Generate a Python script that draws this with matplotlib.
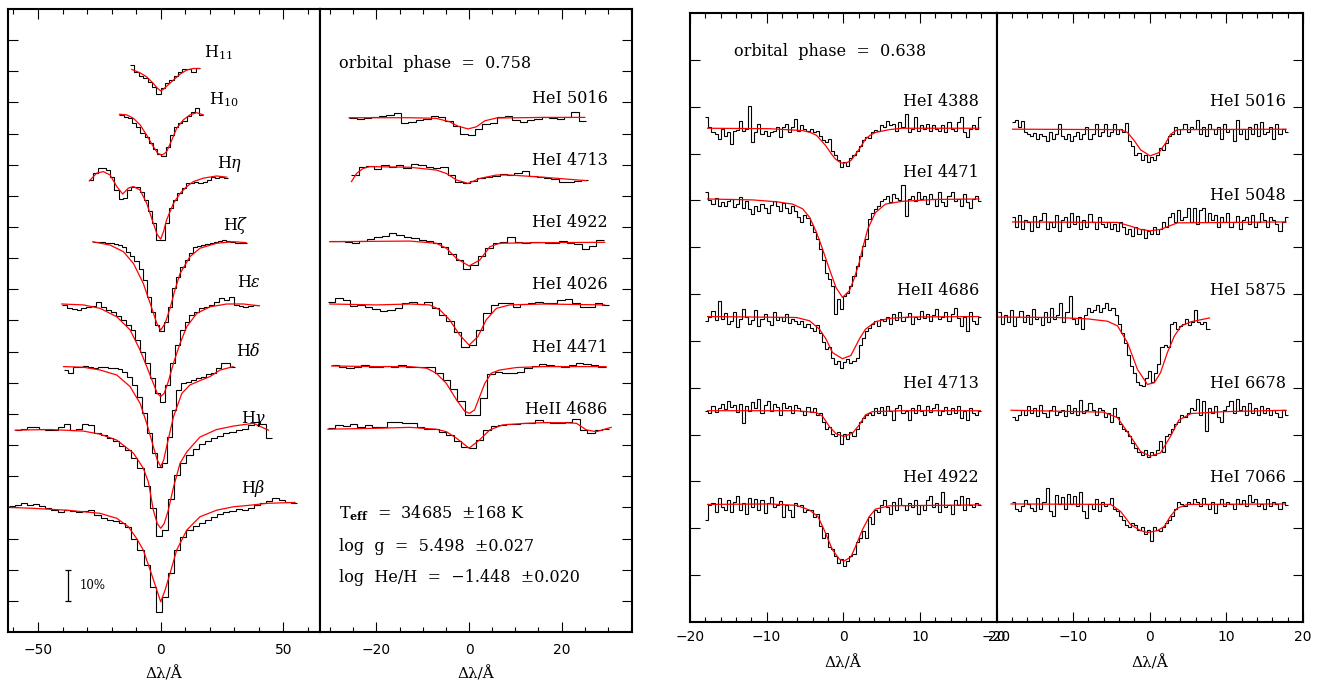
import numpy as np
import matplotlib
matplotlib.use('Agg')
import matplotlib.pyplot as plt
from matplotlib.ticker import MultipleLocator

plt.rcParams['mathtext.fontset'] = 'dejavuserif'
plt.rcParams['font.family'] = 'DejaVu Sans'
SERIF = 'DejaVu Serif'

# ---------------- left figure, Balmer lines (continuum = 1) ----------------
balmer_labels = [r'H$_{\rm 11}$', r'H$_{\rm 10}$', r'H$\eta$', r'H$\zeta$',
                 r'H$\epsilon$', r'H$\delta$', r'H$\gamma$', r'H$\beta$']
balmer_cont = [1.807, 1.665, 1.462, 1.253, 1.053, 0.852, 0.648, 0.400]
balmer_start = [-12.5, -16.8, -29.1, -27.7, -40.3, -39.6, -59.5, -62.0]
balmer_step = [1.78, 1.71, 1.71, 1.70, 2.0, 2.0, 2.5, 2.5]
balmer_lab_x = [17.6, 19.7, 22.8, 25.3, 31.2, 30.7, 32.6, 32.6]
balmer_lab_y = [1.845, 1.694, 1.491, 1.291, 1.107, 0.886, 0.672, 0.447]

h11_obs = [1.013, 0.991, 0.978, 0.973, 0.959, 0.943, 0.919, 0.938, 0.954, 0.965,
           0.978, 0.991, 1.0, 0.999, 0.991, 1.004]
h11_fit_x = [-11.8, -8.4, -5.7, -3.0, -1.5, 0, 1.2, 2.4, 5.2, 7.9, 10.6, 13.3, 15.8]
h11_fit_y = [0.999, 0.988, 0.975, 0.954, 0.94, 0.930, 0.936, 0.945, 0.965, 0.984,
             0.997, 1.002, 1.002]

h10_obs = [0.995, 0.987, 0.984, 0.970, 0.955, 0.936, 0.923, 0.904, 0.884, 0.869,
           0.863, 0.893, 0.930, 0.957, 0.970, 0.976, 0.991, 1.005, 1.016, 0.995]
h10_fit_x = [-16.8, -13.8, -11.1, -8.4, -5.7, -3.0, -1.2, 0.3, 1.4, 2.4, 4.5, 6.5,
             9.2, 11.9, 14.7, 17.4]
h10_fit_y = [0.997, 0.995, 0.984, 0.963, 0.930, 0.893, 0.872, 0.866, 0.870, 0.877,
             0.914, 0.952, 0.979, 0.995, 1.002, 0.995]

heta_obs = [0.989, 1.011, 1.027, 1.027, 1.021, 1.0, 0.957, 0.927, 0.930, 0.957,
            0.968, 0.968, 0.952, 0.925, 0.888, 0.850, 0.797, 0.795, 0.850, 0.898,
            0.925, 0.946, 0.963, 0.979, 0.981, 0.984, 0.981, 0.984, 0.989, 1.0,
            0.995, 1.0, 0.995]
heta_fit_x = [-29.1, -26.1, -23.4, -20.6, -17.9, -15.5, -13.2, -11.1, -8.4, -5.7,
              -3.0, -1.5, 0, 1.2, 2.4, 5.2, 7.9, 10.6, 13.3, 17.4, 22.8, 26.9]
heta_fit_y = [0.986, 1.011, 1.016, 1.005, 0.968, 0.944, 0.963, 0.968, 0.957, 0.914,
              0.850, 0.815, 0.799, 0.825, 0.861, 0.914, 0.946, 0.968, 0.984, 0.995,
              1.002, 0.998]

hzeta_obs = [1.0, 1.0, 0.998, 0.997, 0.995, 0.993, 0.989, 0.982, 0.968, 0.954,
             0.939, 0.911, 0.877, 0.823, 0.775, 0.732, 0.714, 0.743, 0.791, 0.850,
             0.888, 0.918, 0.941, 0.965, 0.982, 0.986, 0.989, 0.993, 0.995, 1.0,
             1.003, 1.005, 1.002, 1.0, 0.997, 0.997, 0.995]
hzeta_fit_x = [-27.7, -20.6, -15.2, -11.1, -7.1, -4.3, -1.6, 0, 1.8, 3.8, 5.8, 7.9,
               11.9, 16.0, 22.8, 29.6, 34.8]
hzeta_fit_y = [1.0, 0.989, 0.968, 0.930, 0.866, 0.802, 0.738, 0.716, 0.738, 0.786,
               0.845, 0.898, 0.952, 0.979, 0.995, 1.0, 0.997]

heps_obs = [0.997, 0.986, 0.983, 0.981, 0.986, 0.989, 0.994, 1.007, 0.991, 0.981,
            0.975, 0.961, 0.949, 0.933, 0.917, 0.884, 0.847, 0.810, 0.761, 0.713,
            0.686, 0.740, 0.810, 0.868, 0.917, 0.943, 0.965, 0.975, 0.986, 0.991,
            0.997, 1.007, 1.018, 1.013, 1.024, 0.997, 0.994, 0.991, 0.994, 0.997]
heps_fit_x = [-40.3, -31.5, -24.7, -17.9, -12.5, -8.4, -5.7, -3.0, -1.4, 0, 1.4,
              3.1, 5.2, 7.9, 10.6, 14.7, 20.1, 26.9, 33.7, 40.2]
heps_fit_y = [1.0, 0.997, 0.986, 0.959, 0.917, 0.852, 0.799, 0.745, 0.713, 0.703,
              0.713, 0.751, 0.810, 0.874, 0.927, 0.970, 0.991, 1.0, 1.0, 0.994]

hdelta_obs = [0.989, 0.981, 0.998, 1.0, 1.002, 0.998, 0.995, 1.0, 0.998, 0.995,
              0.995, 0.991, 0.984, 0.968, 0.941, 0.904, 0.850, 0.786, 0.722, 0.677,
              0.690, 0.775, 0.861, 0.925, 0.946, 0.952, 0.957, 0.963, 0.968, 0.976,
              0.981, 0.995, 1.011, 1.013, 1.0]
hdelta_fit_x = [-39.6, -31.5, -24.7, -17.9, -12.5, -8.4, -5.7, -3.0, -1.4, 0, 1.2,
                2.4, 5.2, 8.6, 11.9, 16.0, 20.1, 24.2, 29.6]
hdelta_fit_y = [1.0, 0.998, 0.989, 0.973, 0.936, 0.882, 0.818, 0.743, 0.70, 0.679,
                0.70, 0.743, 0.839, 0.914, 0.941, 0.955, 0.968, 0.989, 1.0]

hgamma_obs = [1.0, 1.005, 1.01, 1.01, 1.005, 1.0, 1.0, 1.01, 1.02, 1.0,
              1.005, 1.02, 1.015, 0.99, 0.985, 0.975, 0.965, 0.95, 0.935, 0.91,
              0.88, 0.82, 0.75, 0.66, 0.68, 0.78, 0.855, 0.895, 0.92, 0.94,
              0.955, 0.965, 0.975, 0.982, 0.99, 0.995, 1.0, 1.005, 1.015, 1.025,
              1.02, 0.975]
hgamma_fit_x = [-59.3, -45.1, -31.5, -24.7, -17.9, -11.1, -7.1, -5.0, -3.0, -1.4, 0,
                1.4, 3.1, 5.2, 7.9, 10.6, 16.0, 22.8, 29.6, 37.7, 43.9]
hgamma_fit_y = [1.0, 1.002, 0.997, 0.987, 0.968, 0.926, 0.878, 0.833, 0.743, 0.70,
                0.685, 0.70, 0.743, 0.817, 0.894, 0.930, 0.978, 1.002, 1.013, 1.022,
                1.0]

hbeta_obs = [1.004, 1.007, 1.013, 1.007, 1.011, 1.004, 0.997, 0.991, 0.986, 0.991,
             0.988, 0.986, 0.989, 0.991, 0.975, 0.965, 0.959, 0.956, 0.949, 0.938,
             0.900, 0.863, 0.815, 0.745, 0.665, 0.713, 0.788, 0.863, 0.906, 0.927,
             0.940, 0.951, 0.959, 0.970, 0.979, 0.984, 0.989, 0.995, 0.991, 0.997,
             1.007, 1.013, 1.021, 1.029, 1.024, 1.018, 1.015]
hbeta_fit_x = [-61.4, -51.9, -38.3, -24.7, -17.9, -13.2, -9.8, -7.1, -4.3, -1.6, 0,
               1.8, 3.8, 6.5, 10.6, 16.0, 22.8, 29.6, 36.4, 43.2, 54.7]
hbeta_fit_y = [1.0, 0.997, 0.991, 0.981, 0.965, 0.938, 0.900, 0.863, 0.799, 0.735,
               0.697, 0.735, 0.788, 0.863, 0.927, 0.970, 0.991, 1.002, 1.007, 1.013,
               1.016]

# ---------------- left figure, helium lines ----------------
heL_labels = ['HeI 5016', 'HeI 4713', 'HeI 4922', 'HeI 4026', 'HeI 4471', 'HeII 4686']
heL_cont = [1.651, 1.451, 1.253, 1.053, 0.852, 0.654]
heL_start = [-25.9, -25.4, -30.1, -30.5, -29.7, -30.5]
heL_step = 1.6
heL_lab_y = [1.697, 1.499, 1.301, 1.100, 0.900, 0.699]

l5016_obs = [0.998, 0.995, 1.0, 1.001, 1.007, 1.01, 1.016, 0.984, 0.987, 0.993,
             0.997, 1.006, 1.003, 0.99, 0.973, 0.948, 0.944, 0.963, 0.98, 0.982,
             1.001, 1.005, 0.993, 0.986, 0.993, 0.995, 1.001, 0.999, 0.995, 1.001,
             1.018, 0.99]
l5016_fit_x = [-25.9, -12.8, -7.1, -4.2, -2.4, -0.2, 1.6, 3.4, 5.9, 16.0, 25.0]
l5016_fit_y = [1.0, 1.0, 0.998, 0.987, 0.973, 0.964, 0.971, 0.990, 0.999, 1.001, 1.001]

l4713_obs = [1.016, 1.043, 1.046, 1.034, 1.047, 1.041, 1.049, 1.037, 1.051, 1.047,
             1.041, 1.037, 1.043, 1.016, 0.995, 0.991, 0.998, 1.005, 1.011, 1.013,
             1.019, 1.016, 1.021, 1.028, 1.014, 1.009, 1.006, 1.002, 0.993, 0.995,
             0.998, 1.0]
l4713_fit_x = [-25.4, -24.3, -22.9, -21.4, -12.8, -7.1, -4.9, -2.7, -0.2, 2.3, 5.9,
               8.8, 16.0, 25.3]
l4713_fit_y = [0.995, 1.021, 1.037, 1.043, 1.041, 1.032, 1.021, 1.0, 0.989, 1.005,
               1.016, 1.016, 1.009, 0.998]

l4922_obs = [1.001, 1.003, 1.0, 0.995, 1.003, 1.01, 1.014, 1.018, 1.027, 1.022,
             1.016, 1.011, 1.005, 1.002, 0.997, 0.984, 0.960, 0.941, 0.911, 0.925,
             0.954, 0.979, 0.995, 0.999, 1.014, 1.0, 0.997, 0.999, 0.998, 0.995,
             0.997, 1.001, 0.997, 0.993, 0.975, 0.986, 1.007]
l4922_fit_x = [-30.1, -12.8, -7.1, -4.9, -2.7, 0, 2.3, 4.5, 6.6, 16.0, 29.3]
l4922_fit_y = [1.0, 1.002, 0.995, 0.979, 0.946, 0.922, 0.941, 0.984, 0.995, 0.997, 0.998]

l4026_obs = [1.007, 1.018, 1.013, 0.994, 0.996, 0.991, 0.985, 0.979, 0.981, 0.988,
             1.002, 1.006, 1.0, 1.005, 0.986, 0.965, 0.946, 0.911, 0.863, 0.868,
             0.917, 0.970, 0.997, 1.002, 1.004, 0.989, 1.0, 1.002, 1.006, 1.002,
             1.004, 1.013, 1.017, 1.004, 0.991, 0.989, 1.004, 0.997]
l4026_fit_x = [-30.1, -20.0, -12.8, -8.5, -6.3, -4.2, -2.0, 0, 1.9, 3.7, 5.9, 8.8,
               16.0, 29.3]
l4026_fit_y = [1.0, 0.997, 1.0, 0.997, 0.981, 0.949, 0.900, 0.868, 0.895, 0.949,
               0.986, 0.997, 1.0, 0.997]

l4471_obs = [1.004, 0.998, 0.994, 1.0, 1.005, 1.0, 0.999, 1.002, 1.0, 1.004,
             1.0, 1.0, 0.998, 0.998, 0.981, 0.957, 0.927, 0.888, 0.845, 0.845,
             0.899, 0.976, 0.983, 0.980, 0.978, 0.984, 0.995, 1.002, 1.007, 1.005,
             1.002, 0.999, 1.005, 1.011, 1.007, 1.004, 0.998]
l4471_fit_x = [-29.7, -20.0, -12.8, -9.2, -7.1, -4.9, -2.7, -0.9, 0.1, 1.2, 2.3, 3.4,
               4.8, 6.6, 10.2, 16.0, 29.6]
l4471_fit_y = [1.002, 1.0, 1.0, 0.995, 0.979, 0.946, 0.893, 0.856, 0.850, 0.861,
               0.904, 0.946, 0.979, 0.989, 0.997, 1.0, 1.0]

l4686_obs = [1.0, 1.011, 1.007, 1.014, 1.003, 1.009, 1.003, 1.005, 1.021, 1.021,
             1.018, 1.018, 1.003, 0.997, 0.997, 0.989, 0.979, 0.960, 0.941, 0.936,
             0.963, 0.995, 1.007, 1.010, 1.015, 1.014, 1.018, 1.016, 1.027, 1.021,
             1.018, 1.016, 1.021, 1.029, 0.995, 0.984, 0.993, 0.999]
l4686_fit_x = [-30.5, -20.0, -12.8, -7.1, -4.9, -2.7, 0, 2.3, 4.5, 7.3, 12.4, 16.0,
               20.3, 23.2, 25.3, 27.5, 30.7]
l4686_fit_y = [0.997, 1.0, 1.003, 0.997, 0.989, 0.968, 0.936, 0.963, 0.995, 1.011,
               1.016, 1.018, 1.018, 1.016, 0.995, 0.989, 1.003]

# ---------------- right figure (orbital phase 0.638) ----------------
rA_labels = ['HeI 4388', 'HeI 4471', 'HeII 4686', 'HeI 4713', 'HeI 4922']
rA_cont = [1.054, 0.903, 0.652, 0.451, 0.250]
rB_labels = ['HeI 5016', 'HeI 5048', 'HeI 5875', 'HeI 6678', 'HeI 7066']
rB_cont = [1.052, 0.854, 0.651, 0.452, 0.252]
rB_start = [-18.0, -18.0, -19.8, -18.0, -18.0]
r_lab_y = [1.101, 0.949, 0.699, 0.500, 0.299]
rB_lab_y = [1.102, 0.901, 0.699, 0.500, 0.299]
r_step = 0.4

r4388_obs = [1.024, 1.002, 0.993, 0.988, 0.977, 0.999, 0.984, 0.991, 0.966, 0.995,
             0.997, 1.016, 0.995, 0.999, 1.048, 0.970, 0.991, 1.009, 0.988, 0.995,
             0.984, 0.991, 0.995, 1.002, 0.981, 1.002, 1.009, 0.991, 1.002, 1.020,
             0.995, 1.006, 0.999, 0.995, 0.999, 0.991, 0.995, 0.984, 0.974, 0.970,
             0.977, 0.952, 0.942, 0.933, 0.917, 0.927, 0.920, 0.936, 0.942, 0.952,
             0.963, 0.974, 0.981, 0.979, 0.991, 0.997, 0.995, 1.006, 1.002, 1.016,
             1.006, 1.009, 0.995, 1.013, 1.002, 1.031, 0.991, 0.999, 1.024, 0.995,
             1.006, 0.999, 1.009, 0.995, 1.006, 0.999, 0.995, 1.006, 0.991, 1.013,
             0.999, 0.995, 1.013, 1.024, 0.991, 0.981, 0.999, 1.006, 0.999, 1.024]
r4388_fit_x = [-17.7, -9.6, -5.3, -4.3, -3.5, -3.0, -2.3, -1.5, -1.0, -0.5, 0, 0.5,
               1.0, 1.5, 2.1, 2.5, 2.9, 3.5, 4.2, 6.0, 7.7, 17.7]
r4388_fit_y = [1.0, 0.999, 0.995, 0.991, 0.985, 0.976, 0.963, 0.944, 0.934, 0.928,
               0.925, 0.927, 0.931, 0.942, 0.956, 0.966, 0.977, 0.985, 0.991, 0.997,
               1.0, 1.0]

r4471_obs = [1.014, 0.998, 0.99, 1.003, 0.985, 0.993, 0.986, 0.996, 1.0, 0.982,
             0.99, 1.004, 0.981, 0.995, 0.978, 0.968, 0.985, 0.975, 0.99, 0.98,
             0.97, 0.988, 0.996, 0.985, 0.975, 0.992, 0.98, 0.97, 0.986, 0.975,
             0.962, 0.95, 0.965, 0.96, 0.945, 0.93, 0.915, 0.893, 0.87, 0.843,
             0.83, 0.815, 0.754, 0.786, 0.765, 0.793, 0.80, 0.815, 0.835, 0.857,
             0.879, 0.9, 0.914, 0.957, 0.971, 0.979, 0.986, 0.996, 1.0, 1.007,
             0.993, 1.01, 1.003, 0.998, 1.029, 0.964, 1.0, 1.007, 0.995, 1.014,
             1.0, 1.007, 0.99, 1.01, 1.0, 0.985, 1.014, 0.993, 0.986, 1.007,
             1.014, 0.995, 1.0, 0.986, 1.01, 0.993, 0.98, 1.0, 1.007, 0.996]
r4471_fit_x = [-17.7, -11.8, -8.7, -6.6, -5.3, -4.4, -3.5, -2.7, -1.8, -0.95, -0.1,
               0.8, 1.4, 2.1, 2.5, 3.2, 4.2, 5.5, 7.7, 12.0, 17.7]
r4471_fit_y = [1.0, 0.998, 0.994, 0.989, 0.979, 0.961, 0.929, 0.893, 0.850, 0.811,
               0.790, 0.804, 0.829, 0.865, 0.893, 0.936, 0.971, 0.989, 0.995, 0.999,
               1.0]

r4686_obs = [0.99, 1.0, 1.012, 0.993, 1.034, 0.995, 1.007, 0.985, 0.99, 1.01,
             0.977, 0.995, 1.016, 1.0, 0.985, 0.993, 1.014, 0.98, 0.995, 1.005,
             0.99, 0.982, 1.01, 0.993, 1.0, 0.99, 1.005, 0.986, 0.995, 0.99,
             0.985, 0.99, 0.978, 0.985, 0.975, 0.97, 0.982, 0.965, 0.945, 0.93,
             0.935, 0.912, 0.898, 0.905, 0.89, 0.902, 0.91, 0.9, 0.905, 0.912,
             0.94, 0.955, 0.97, 0.975, 0.985, 0.99, 0.98, 0.995, 0.99, 1.0,
             0.985, 1.005, 0.993, 1.01, 0.99, 1.0, 1.007, 0.985, 1.0, 0.995,
             1.012, 0.998, 1.006, 0.99, 1.004, 1.016, 0.995, 1.0, 1.01, 0.99,
             1.005, 1.018, 0.996, 0.98, 1.0, 0.97, 1.01, 0.99, 0.985, 1.0]
r4686_fit_x = [-17.7, -6.1, -4.4, -3.1, -2.25, -1.4, -0.1, 1.0, 2.1, 2.9, 4.2, 6.0,
               8.6, 17.7]
r4686_fit_y = [1.0, 0.998, 0.991, 0.973, 0.952, 0.923, 0.910, 0.917, 0.952, 0.973,
               0.989, 0.996, 0.999, 1.0]

r4713_obs = [1.0, 0.995, 1.01, 0.998, 1.005, 1.014, 1.003, 1.02, 1.008, 1.012,
             0.998, 1.015, 0.974, 1.01, 1.0, 1.018, 1.005, 1.025, 0.995, 1.012,
             1.02, 1.0, 1.015, 1.008, 0.99, 1.017, 1.005, 1.01, 0.995, 1.012,
             1.005, 1.0, 0.99, 1.008, 0.998, 1.005, 0.99, 0.995, 0.975, 0.96,
             0.965, 0.95, 0.945, 0.955, 0.93, 0.95, 0.94, 0.955, 0.945, 0.96,
             0.975, 0.985, 0.99, 0.995, 0.99, 1.005, 0.995, 1.007, 0.99, 1.01,
             1.0, 0.98, 1.005, 1.013, 0.995, 1.0, 0.98, 1.006, 0.995, 1.012,
             1.0, 0.99, 1.01, 0.997, 1.005, 1.015, 0.99, 1.0, 1.008, 0.993,
             1.005, 0.995, 1.01, 0.985, 1.0, 0.98, 1.006, 0.995, 0.99, 1.0]
r4713_fit_x = [-17.7, -6.1, -3.5, -2.7, -1.8, -0.95, 0.1, 1.2, 2.1, 2.9, 3.8, 7.7, 17.9]
r4713_fit_y = [1.0, 1.0, 0.996, 0.988, 0.966, 0.951, 0.945, 0.952, 0.970, 0.991,
               0.998, 1.0, 1.0]

r4922_obs = [0.968, 1.0, 1.005, 0.985, 1.014, 0.995, 0.99, 1.01, 0.985, 1.007,
             1.02, 0.99, 1.005, 0.98, 1.015, 0.995, 1.012, 0.99, 1.01, 0.982,
             1.005, 1.016, 0.995, 1.0, 1.008, 0.975, 1.0, 0.99, 0.975, 1.003,
             0.998, 1.0, 0.985, 0.99, 0.99, 0.975, 0.98, 0.955, 0.93, 0.94,
             0.91, 0.905, 0.89, 0.875, 0.885, 0.87, 0.88, 0.89, 0.895, 0.92,
             0.93, 0.945, 0.93, 0.975, 0.96, 0.99, 0.985, 1.0, 1.01, 0.995,
             0.98, 1.006, 0.99, 1.014, 1.0, 0.99, 1.005, 0.995, 1.01, 0.98,
             1.0, 0.99, 1.01, 1.02, 0.995, 1.005, 0.985, 1.028, 0.995, 1.0,
             0.98, 1.01, 1.0, 1.02, 0.99, 1.014, 1.0, 0.995, 1.005, 1.0]
r4922_fit_x = [-17.7, -9.6, -6.1, -4.4, -3.3, -2.5, -1.4, -0.5, 0.1, 1.0, 1.6, 2.5,
               3.4, 4.2, 6.0, 17.9]
r4922_fit_y = [1.001, 1.002, 0.999, 0.989, 0.975, 0.947, 0.904, 0.884, 0.880, 0.889,
               0.911, 0.947, 0.975, 0.991, 0.998, 1.0]

r5016_obs = [1.015, 1.02, 1.005, 1.018, 0.995, 0.99, 0.985, 0.992, 0.978, 0.99,
             0.985, 0.975, 0.995, 0.98, 0.99, 1.01, 0.985, 0.98, 0.99, 0.975,
             0.985, 0.995, 0.98, 0.99, 1.005, 0.98, 0.99, 1.01, 0.985, 0.993,
             1.01, 0.985, 0.995, 1.012, 0.99, 1.0, 0.995, 1.013, 0.975, 0.965,
             0.945, 0.95, 0.935, 0.945, 0.93, 0.94, 0.935, 0.945, 0.96, 0.955,
             0.97, 0.985, 0.99, 1.005, 0.99, 1.0, 1.01, 0.995, 1.005, 1.0,
             1.02, 0.99, 1.005, 0.985, 1.01, 1.0, 0.99, 1.005, 0.98, 1.01,
             0.995, 1.0, 0.975, 1.02, 0.99, 1.0, 0.978, 1.005, 0.99, 1.01,
             0.985, 1.015, 0.99, 0.995, 1.005, 0.98, 1.01, 0.99, 1.0, 0.995]
r5016_fit_x = [-17.9, -3.8, -2.9, -2.0, -1.2, 0.05, 1.2, 2.1, 2.7, 3.6, 17.8]
r5016_fit_y = [1.0, 0.999, 0.993, 0.975, 0.956, 0.943, 0.95, 0.971, 0.989, 0.999, 1.0]

r5048_obs = [1.01, 0.99, 1.015, 0.985, 1.005, 1.0, 0.98, 1.013, 0.99, 1.005,
             1.02, 0.985, 1.0, 0.99, 1.015, 0.98, 1.005, 1.01, 0.99, 1.02,
             0.995, 1.012, 0.985, 1.005, 0.99, 1.018, 1.0, 0.985, 1.01, 0.995,
             0.99, 1.0, 0.985, 0.995, 0.98, 1.0, 0.99, 0.975, 0.985, 0.97,
             0.99, 0.975, 0.985, 0.965, 0.98, 0.975, 0.99, 0.975, 0.985, 1.0,
             0.99, 1.01, 1.02, 1.0, 1.025, 1.005, 1.01, 1.03, 1.0, 1.03,
             0.995, 1.025, 1.03, 1.0, 1.02, 1.005, 1.015, 0.99, 1.01, 1.0,
             1.02, 0.99, 1.0, 1.012, 0.985, 1.005, 1.01, 0.995, 1.015, 0.99,
             1.0, 1.02, 1.005, 0.99, 1.01, 1.005, 0.995, 0.98, 1.0, 1.01]
r5048_fit_x = [-17.9, -4.2, -2.5, -1.2, 0.05, 1.4, 2.5, 3.6, 17.8]
r5048_fit_y = [1.0, 0.999, 0.991, 0.984, 0.981, 0.984, 0.991, 0.998, 1.0]

r5875_obs = [1.01, 0.985, 1.005, 0.99, 1.015, 0.98, 1.0, 1.012, 0.99, 1.005,
             0.985, 1.018, 0.995, 1.0, 0.983, 1.01, 0.99, 1.02, 0.995, 1.005,
             1.03, 0.99, 1.01, 1.045, 0.995, 0.985, 1.0, 0.975, 1.005, 1.02,
             1.01, 1.015, 1.025, 1.01, 1.02, 1.03, 1.015, 1.02, 1.005, 0.985,
             0.965, 0.945, 0.92, 0.895, 0.88, 0.862, 0.855, 0.852, 0.87, 0.885,
             0.862, 0.88, 0.9, 0.935, 0.94, 0.935, 0.985, 0.99, 0.975, 0.98,
             0.985, 0.995, 0.983, 0.99, 1.015, 0.99, 0.985, 0.99, 0.975]
r5875_fit_x = [-19.8, -12.1, -8.1, -5.5, -4.2, -2.9, -1.6, -0.3, 0.6, 1.4, 2.3, 3.2,
               4.1, 5.4, 7.8]
r5875_fit_y = [1.0, 0.999, 0.996, 0.991, 0.981, 0.945, 0.888, 0.856, 0.86, 0.881,
               0.924, 0.959, 0.981, 0.99, 0.998]

r6678_obs = [0.985, 0.98, 0.99, 1.0, 0.99, 1.01, 0.995, 1.005, 0.988, 1.012,
             0.995, 0.985, 1.0, 1.01, 0.99, 0.996, 1.0, 0.988, 1.012, 0.995,
             1.005, 0.99, 1.022, 0.995, 1.0, 1.015, 1.0, 0.99, 1.005, 1.0,
             0.985, 0.995, 0.975, 1.005, 0.985, 0.97, 0.96, 0.955, 0.945, 0.93,
             0.92, 0.91, 0.905, 0.915, 0.9, 0.91, 0.905, 0.915, 0.935, 0.91,
             0.945, 0.95, 0.96, 0.97, 0.975, 0.99, 0.985, 0.995, 1.005, 1.0,
             1.025, 0.99, 1.02, 0.955, 1.005, 0.995, 1.01, 0.985, 0.975, 1.0,
             1.01, 1.02, 0.995, 1.025, 1.0, 1.01, 0.99, 1.015, 0.995, 1.005,
             0.99, 1.01, 0.995, 1.005, 0.99, 1.0, 0.995, 0.985, 1.0, 0.99]
r6678_fit_x = [-18.1, -6.0, -4.2, -2.5, -1.2, 0.05, 1.4, 2.7, 3.8, 5.4, 9.7, 17.8]
r6678_fit_y = [1.0, 0.996, 0.984, 0.944, 0.912, 0.902, 0.909, 0.944, 0.979, 0.993,
               0.997, 1.0]

r7066_obs = [1.005, 0.99, 0.985, 0.995, 1.008, 1.0, 0.992, 0.985, 1.012, 0.99,
             1.005, 1.035, 0.985, 0.975, 1.02, 1.0, 1.015, 0.99, 1.022, 1.0,
             1.018, 0.995, 1.025, 0.985, 0.97, 1.0, 0.99, 1.01, 0.985, 1.005,
             0.995, 1.0, 1.012, 0.99, 0.985, 0.975, 0.965, 0.955, 0.95, 0.96,
             0.955, 0.945, 0.95, 0.935, 0.945, 0.92, 0.95, 0.945, 0.943, 0.95,
             0.96, 0.965, 0.975, 0.99, 1.005, 1.0, 0.995, 1.005, 1.0, 1.01,
             1.005, 0.995, 1.012, 1.0, 0.99, 1.005, 0.98, 1.0, 1.01, 0.995,
             1.005, 1.0, 0.99, 1.01, 1.0, 1.008, 0.995, 1.02, 1.005, 1.01,
             0.995, 1.0, 0.99, 1.01, 0.995, 1.005, 1.0, 0.99, 1.005, 0.998]
r7066_fit_x = [-18.1, -5.1, -3.8, -2.5, -1.2, -0.3, 1.0, 1.9, 2.7, 3.6, 4.9, 17.7]
r7066_fit_y = [1.0, 0.999, 0.984, 0.956, 0.943, 0.939, 0.943, 0.952, 0.974, 0.991,
               0.999, 1.0]

balmer_obs = [h11_obs, h10_obs, heta_obs, hzeta_obs, heps_obs, hdelta_obs, hgamma_obs, hbeta_obs]
balmer_fx = [h11_fit_x, h10_fit_x, heta_fit_x, hzeta_fit_x, heps_fit_x, hdelta_fit_x,
             hgamma_fit_x, hbeta_fit_x]
balmer_fy = [h11_fit_y, h10_fit_y, heta_fit_y, hzeta_fit_y, heps_fit_y, hdelta_fit_y,
             hgamma_fit_y, hbeta_fit_y]
heL_obs = [l5016_obs, l4713_obs, l4922_obs, l4026_obs, l4471_obs, l4686_obs]
heL_fx = [l5016_fit_x, l4713_fit_x, l4922_fit_x, l4026_fit_x, l4471_fit_x, l4686_fit_x]
heL_fy = [l5016_fit_y, l4713_fit_y, l4922_fit_y, l4026_fit_y, l4471_fit_y, l4686_fit_y]
rA_obs = [r4388_obs, r4471_obs, r4686_obs, r4713_obs, r4922_obs]
rA_fx = [r4388_fit_x, r4471_fit_x, r4686_fit_x, r4713_fit_x, r4922_fit_x]
rA_fy = [r4388_fit_y, r4471_fit_y, r4686_fit_y, r4713_fit_y, r4922_fit_y]
rB_obs = [r5016_obs, r5048_obs, r5875_obs, r6678_obs, r7066_obs]
rB_fx = [r5016_fit_x, r5048_fit_x, r5875_fit_x, r6678_fit_x, r7066_fit_x]
rB_fy = [r5016_fit_y, r5048_fit_y, r5875_fit_y, r6678_fit_y, r7066_fit_y]


def draw_line(ax, start, step, obs, cont, fx, fy):
    edges = start + step * np.arange(len(obs) + 1)
    ax.stairs(np.array(obs) + cont - 1, edges, color='black', lw=0.8, baseline=None)
    ax.plot(fx, np.array(fy) + cont - 1, color='red', lw=0.9)


def style(ax, xlim, ytop, major, minor, yside, pad):
    ax.set_xlim(xlim)
    ax.set_ylim(0, ytop)
    ax.xaxis.set_major_locator(MultipleLocator(major))
    ax.xaxis.set_minor_locator(MultipleLocator(minor))
    ax.set_yticks(np.arange(1, int(round(ytop * 10))) / 10)
    ax.tick_params(axis='x', which='both', direction='in', top=True, bottom=True, width=0.8)
    ax.tick_params(axis='x', which='major', length=7.2, labelsize=10, pad=pad)
    ax.tick_params(axis='x', which='minor', length=3.8)
    ax.tick_params(axis='y', direction='in', length=7.2, width=0.8,
                   left=(yside == 'left'), right=(yside == 'right'),
                   labelleft=False, labelright=False)
    for s in ax.spines.values():
        s.set_linewidth(1.5)


W, H = 1323, 689
fig = plt.figure(figsize=(W / 100, H / 100), dpi=100)
ax1 = fig.add_axes([8.3 / W, 57 / H, 311.7 / W, 623 / H])
ax2 = fig.add_axes([320 / W, 57 / H, 312 / W, 623 / H])
ax3 = fig.add_axes([690 / W, 67 / H, 306.5 / W, 609 / H])
ax4 = fig.add_axes([996.5 / W, 67 / H, 306.5 / W, 609 / H])

txt = dict(family=SERIF, fontsize=11.5, va='baseline')

# left figure, Balmer
for i in range(len(balmer_obs)):
    draw_line(ax1, balmer_start[i], balmer_step[i], balmer_obs[i], balmer_cont[i],
              balmer_fx[i], balmer_fy[i])
    ax1.text(balmer_lab_x[i], balmer_lab_y[i], balmer_labels[i], ha='left', **txt)
ax1.errorbar([-37.9], [0.15], yerr=[0.05], color='black', lw=0.9, capsize=2.2, capthick=0.9)
ax1.text(-32.9, 0.148, '10%', family=SERIF, fontsize=8.5, ha='left', va='center')
style(ax1, (-62.1, 64.9), 2.0, 50, 10, 'left', 8)

# left figure, helium
for i in range(len(heL_obs)):
    draw_line(ax2, heL_start[i], heL_step, heL_obs[i], heL_cont[i], heL_fx[i], heL_fy[i])
    ax2.text(29.9, heL_lab_y[i], heL_labels[i], ha='right', **txt)
ax2.text(-28.1, 1.812, 'orbital  phase  =  0.758', ha='left', **txt)
ax2.text(-28.1, 0.365, r'T$_{\mathbf{eff}}$  =  34685  ±168 K', ha='left', **txt)
ax2.text(-28.1, 0.260, 'log  g  =  5.498  ±0.027', ha='left', **txt)
ax2.text(-28.1, 0.162, 'log  He/H  =  −1.448  ±0.020', ha='left', **txt)
style(ax2, (-32.2, 35.2), 2.0, 20, 5, 'right', 8)

# right figure
for i in range(len(rA_obs)):
    draw_line(ax3, -18.0, r_step, rA_obs[i], rA_cont[i], rA_fx[i], rA_fy[i])
    ax3.text(17.7, r_lab_y[i], rA_labels[i], ha='right', **txt)
ax3.text(-14.2, 1.209, 'orbital  phase  =  0.638', ha='left', **txt)
style(ax3, (-20, 20), 1.3, 10, 2, 'left', 6)

for i in range(len(rB_obs)):
    draw_line(ax4, rB_start[i], r_step, rB_obs[i], rB_cont[i], rB_fx[i], rB_fy[i])
    ax4.text(17.8, rB_lab_y[i], rB_labels[i], ha='right', **txt)
style(ax4, (-20, 20), 1.3, 10, 2, 'right', 6)

for ax, dy in [(ax1, 42 / 623), (ax2, 42 / 623), (ax3, 40.5 / 609), (ax4, 40.5 / 609)]:
    ax.text(0.5, -dy, 'Δλ/Å', transform=ax.transAxes, family=SERIF, fontsize=11,
            ha='center', va='center')

fig.savefig('out.png', dpi=100)
